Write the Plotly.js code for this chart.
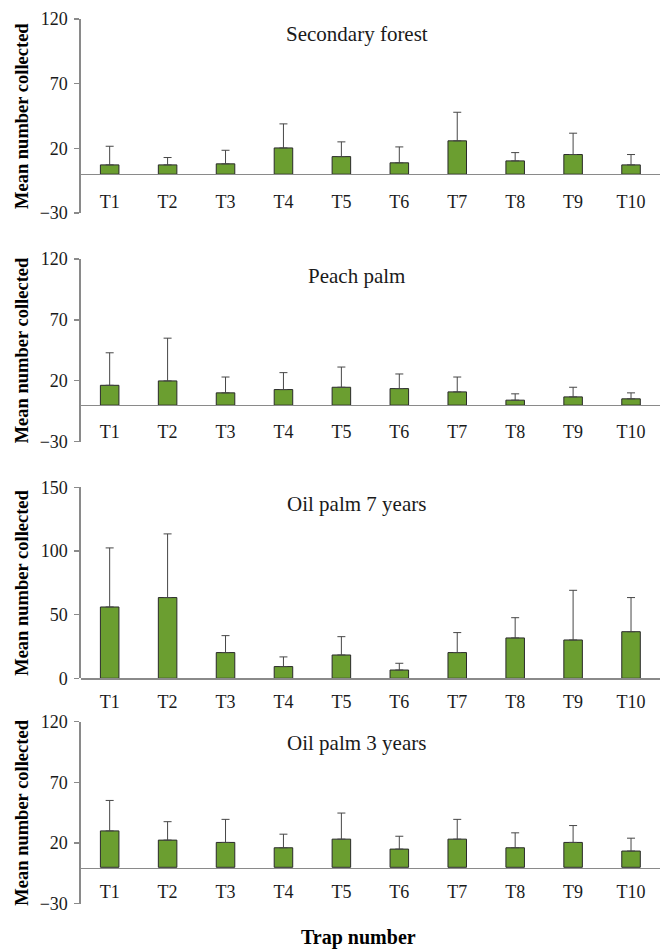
<!DOCTYPE html>
<html>
<head>
<meta charset="utf-8">
<script src="https://cdn.plot.ly/plotly-3.0.1.min.js"></script>
<style>html,body{margin:0;padding:0;background:#fff;}#chart{width:661px;height:951px;}</style>
</head>
<body>
<div id="chart"></div>
<script>
// ---- data ----
const traps = ['T1','T2','T3','T4','T5','T6','T7','T8','T9','T10'];
const panelTitles = ['Secondary forest','Peach palm','Oil palm 7 years','Oil palm 3 years'];

const secondaryMean = [7.2, 7.2, 8.0, 20.3, 13.6, 8.8, 25.8, 10.3, 15.2, 7.2];
const secondaryErr  = [14.4, 5.7, 10.5, 18.6, 11.4, 12.3, 22.1, 6.4, 16.5, 8.0];

const peachMean = [16.3, 19.9, 10.1, 12.8, 14.7, 13.6, 10.9, 4.1, 6.8, 5.2];
const peachErr  = [26.7, 35.1, 13.0, 13.9, 16.6, 12.0, 12.2, 5.2, 7.9, 4.9];

const oil7Mean = [56.0, 63.4, 20.2, 9.2, 18.3, 6.5, 20.2, 31.7, 30.1, 36.6];
const oil7Err  = [46.4, 50.0, 13.3, 7.6, 14.4, 5.3, 15.7, 15.9, 39.0, 26.8];

const oil3Mean = [30.0, 22.4, 20.5, 16.1, 23.2, 15.0, 23.2, 16.1, 20.5, 13.4];
const oil3Err  = [25.1, 15.2, 19.0, 11.2, 21.5, 10.6, 16.3, 12.3, 13.9, 10.6];

const yTicksA = [-30, 20, 70, 120];
const yTicksB = [0, 50, 100, 150];

// ---- layout helpers ----
const H = 951, W = 661;
const fy = px => 1 - px / H;
const fx = px => px / W;

const panels = [
  {mean: secondaryMean, err: secondaryErr, top: 19,    bot: 213,   zero: 173.7, range: [-30,120], ticks: yTicksA, titleY: 34,  stand: 11},
  {mean: peachMean,     err: peachErr,     top: 259,   bot: 441.7, zero: 404.7, range: [-30,120], ticks: yTicksA, titleY: 276, stand: 10},
  {mean: oil7Mean,      err: oil7Err,      top: 487.3, bot: 678.3, zero: 678.3, range: [0,150],   ticks: yTicksB, titleY: 504, stand: 7},
  {mean: oil3Mean,      err: oil3Err,      top: 721.7, bot: 903.7, zero: 867.7, range: [-30,120], ticks: yTicksA, titleY: 743, stand: 7}
];

const serif = 'Liberation Serif, Times New Roman, serif';
const axisGrey = '#8a8a8a';
const xDom = [fx(80.7), fx(660)];

const data = [];
const layout = {
  width: W, height: H,
  margin: {l: 0, r: 0, t: 0, b: 0},
  paper_bgcolor: '#fff', plot_bgcolor: 'rgba(0,0,0,0)',
  showlegend: false,
  bargap: 0.68,
  font: {family: serif, size: 18, color: '#1a1a1a'},
  annotations: []
};

panels.forEach((p, i) => {
  const n = i === 0 ? '' : String(i + 1);
  data.push({
    type: 'bar',
    x: traps, y: p.mean,
    xaxis: 'x' + n, yaxis: 'y' + n,
    marker: {color: '#6b9e30', line: {color: '#2a2a2a', width: 1}},
    error_y: {type: 'data', array: p.err, symmetric: false, arrayminus: p.err.map(() => 0),
              color: '#474747', thickness: 1, width: 4},
    hoverinfo: 'x+y'
  });
  layout['xaxis' + n] = {
    domain: xDom, anchor: 'free', position: fy(p.zero),
    type: 'category', range: [-0.5, 9.5],
    showline: true, linecolor: axisGrey, linewidth: 1.3,
    ticks: '', showgrid: false, zeroline: false,
    tickfont: {family: serif, size: 18, color: '#1a1a1a'},
    ticklabelstandoff: p.stand, fixedrange: true
  };
  layout['yaxis' + n] = {
    domain: [fy(p.bot), fy(p.top)], anchor: 'x' + n,
    range: p.range, tickvals: p.ticks,
    showline: true, linecolor: axisGrey, linewidth: 1.3,
    ticks: 'outside', ticklen: 5, tickcolor: axisGrey, tickwidth: 1.3,
    showgrid: false, zeroline: false,
    tickfont: {family: serif, size: 18, color: '#1a1a1a'},
    ticklabelstandoff: 3, fixedrange: true
  };
  layout.annotations.push({
    text: panelTitles[i], xref: 'paper', yref: 'paper',
    x: fx(356.5), y: fy(p.titleY), xanchor: 'center', yanchor: 'middle',
    showarrow: false, font: {family: serif, size: 21, color: '#1a1a1a'}
  });
  layout.annotations.push({
    text: '<b>Mean number collected</b>', xref: 'paper', yref: 'paper',
    x: fx(22), y: fy((p.top + p.bot) / 2), xanchor: 'center', yanchor: 'middle',
    textangle: -90, showarrow: false, font: {family: serif, size: 18.5, color: '#000'}
  });
});

layout.annotations.push({
  text: '<b>Trap number</b>', xref: 'paper', yref: 'paper',
  x: fx(358), y: fy(937), xanchor: 'center', yanchor: 'middle',
  showarrow: false, font: {family: serif, size: 20, color: '#000'}
});

Plotly.newPlot('chart', data, layout, {displayModeBar: false, staticPlot: true});
</script>
</body>
</html>
